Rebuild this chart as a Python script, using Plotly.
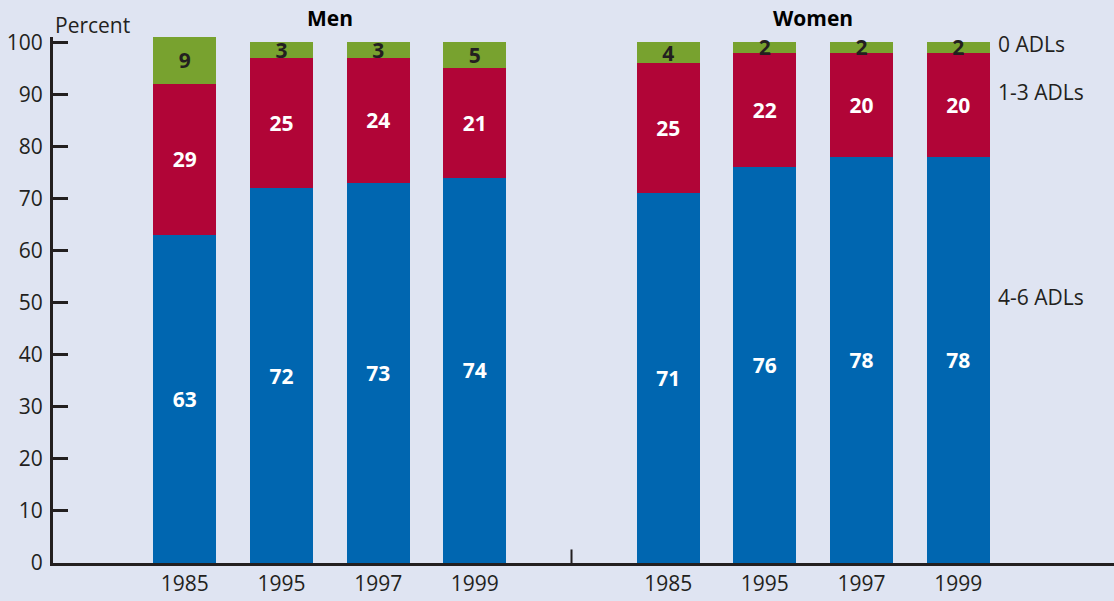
import plotly.graph_objects as go

years = ["1985", "1995", "1997", "1999"]
men_46 = [63, 72, 73, 74]
men_13 = [29, 25, 24, 21]
men_0 = [9, 3, 3, 5]
women_46 = [71, 76, 78, 78]
women_13 = [25, 22, 20, 20]
women_0 = [4, 2, 2, 2]

x_men = list(range(len(years)))
x_women = [i + len(years) + 1 for i in range(len(years))]
xs = x_men + x_women
gap = len(years)

blue = "#0066b0"
red = "#b10537"
green = "#78a22f"
bg = "#dfe4f2"
ink = "#231f20"
font = "Open Sans"
fs = 21

fig = go.Figure()
series = [
    ("4-6 ADLs", men_46 + women_46, blue, "white"),
    ("1-3 ADLs", men_13 + women_13, red, "white"),
    ("0 ADLs", men_0 + women_0, green, ink),
]
for name, vals, col, tcol in series:
    fig.add_trace(go.Bar(
        x=xs, y=vals, name=name, marker_color=col, marker_line_width=0,
        width=0.65, text=vals, textposition="inside", insidetextanchor="middle",
        textangle=0, constraintext="none",
        textfont=dict(family=font, size=fs, color=tcol, weight="bold"),
        cliponaxis=False,
    ))

fig.update_layout(
    barmode="stack", showlegend=False,
    paper_bgcolor=bg, plot_bgcolor=bg,
    width=1114, height=601,
    margin=dict(l=53, r=0, t=37, b=38, autoexpand=False),
    font=dict(family=font, size=fs, color=ink),
    uniformtext=dict(minsize=fs, mode="show"),
)
fig.update_xaxes(
    range=[-1.364, 9.612], tickvals=xs, ticktext=years + years,
    showline=True, linecolor=ink, linewidth=3, ticks="", showgrid=False,
    zeroline=False, tickfont=dict(size=fs, color=ink), automargin=False,
)
fig.update_yaxes(
    range=[0, 101], tickvals=list(range(0, 101, 10)), showline=True, linecolor=ink, linewidth=3,
    ticks="inside", ticklen=15, tickwidth=3, tickcolor=ink,
    showgrid=False, zeroline=False, tickfont=dict(size=fs, color=ink),
    ticklabelstandoff=3, automargin=False,
)

# little divider tick between the groups
fig.add_shape(type="line", x0=gap, x1=gap, y0=0, y1=2.6,
              line=dict(color=ink, width=2), layer="above")

fig.add_annotation(x=sum(x_men) / len(x_men), y=1.036, yref="paper", yanchor="middle",
                   text="<b>Men</b>", showarrow=False, font=dict(size=fs, color="black"))
fig.add_annotation(x=sum(x_women) / len(x_women), y=1.036, yref="paper", yanchor="middle",
                   text="<b>Women</b>", showarrow=False, font=dict(size=fs, color="black"))
fig.add_annotation(x=0, xref="paper", xanchor="left", y=1.023, yref="paper", yanchor="middle",
                   text="Percent", showarrow=False, font=dict(size=fs, color=ink))

side = [("0 ADLs", 99.6), ("1-3 ADLs", 90.4), ("4-6 ADLs", 51)]
for lab, yy in side:
    fig.add_annotation(x=8.39, y=yy, xanchor="left", yanchor="middle", text=lab,
                       showarrow=False, font=dict(size=fs, color=ink))

fig.write_html("out.html", config={"displayModeBar": False},
               post_script="document.body.style.margin='0';")
